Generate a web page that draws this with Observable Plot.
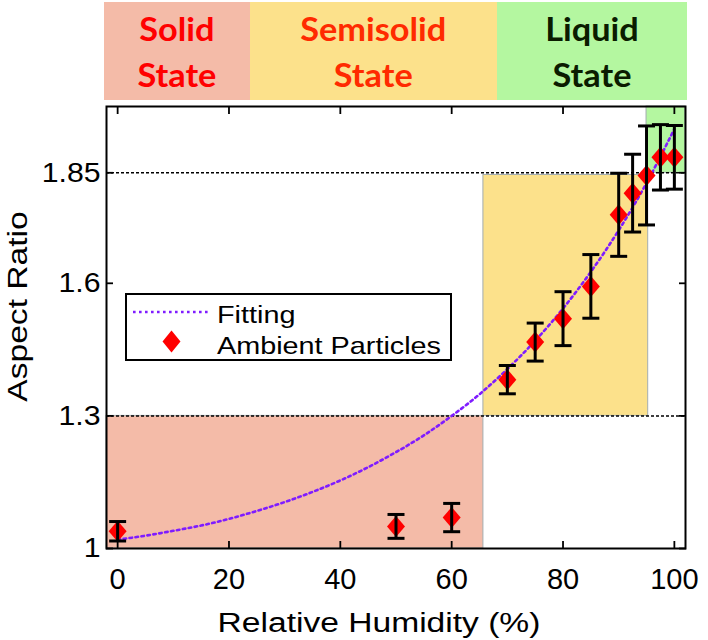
<!DOCTYPE html>
<html><head><meta charset="utf-8">
<script src="https://cdn.jsdelivr.net/npm/d3@7"></script>
<script src="https://cdn.jsdelivr.net/npm/@observablehq/plot@0.6"></script>
<style>
body{margin:0;background:#fff;}
#wrap{position:relative;width:708px;height:640px;overflow:hidden;font-family:"Liberation Sans",Arial,sans-serif;}
#banner{position:absolute;left:104px;top:2px;height:98px;display:flex;}
#banner div{height:98px;display:flex;align-items:center;justify-content:center;text-align:center;font-family:Lato,"Open Sans",sans-serif;font-weight:700;font-size:33px;line-height:46px;}
#banner span{display:inline-block;transform:scaleX(1.04);}
#chart{position:absolute;left:0;top:101px;}
#legend{position:absolute;left:125px;top:293px;}
</style></head>
<body><div id="wrap"><div id="banner"></div><div id="chart"></div><div id="legendBox"></div></div>
<script>
// ---- data ----
const rh  = [0, 50, 60, 70, 75, 80, 85, 90, 92.5, 95, 97.5, 100];
const ar  = [1.039, 1.050, 1.070, 1.382, 1.467, 1.520, 1.593, 1.755, 1.804, 1.844, 1.885, 1.885];
const err = [0.022, 0.027, 0.032, 0.032, 0.043, 0.061, 0.072, 0.094, 0.088, 0.112, 0.074, 0.072];

const fitRH = [0, 5, 10, 15, 20, 25, 30, 35, 40, 45, 50, 55, 60, 65, 70, 75, 80, 85, 90, 95, 100];
const fitAR = [1.020, 1.029, 1.040, 1.052, 1.067, 1.085, 1.105, 1.128, 1.154, 1.184, 1.218, 1.256, 1.300, 1.349, 1.406, 1.470, 1.543, 1.626, 1.720, 1.827, 1.949];

const regionNames = ["Solid", "Semisolid", "Liquid"];
const regionX1 = [-2, 65.7, 95];
const regionX2 = [65.7, 95.3, 102];
const regionY1 = [1, 1.3, 1.85];
const regionY2 = [1.3, 1.845, 2.0];
const thresholdAR = [1.3, 1.85];

const stateLines = [["Solid", "State"], ["Semisolid", "State"], ["Liquid", "State"]];
const xTicks = [0, 20, 40, 60, 80, 100];
const yTicks = [1, 1.3, 1.6, 1.85];
const xTitle = "Relative Humidity (%)";
const yTitle = "Aspect Ratio";
const legendLabels = ["Fitting", "Ambient Particles"];

// ---- styles ----
const regionFill = {Solid: "#f4bba8", Semisolid: "#fce18b", Liquid: "#b4f7a0"};
const bannerText = {Solid: "#ff0000", Semisolid: "#ff2a00", Liquid: "#0b1c00"};
const bannerWidths = [146, 247, 190];
const fitColor = "#7f1cff";

// ---- banner ----
const banner = document.getElementById("banner");
regionNames.forEach((n, i) => {
  const d = document.createElement("div");
  d.style.width = bannerWidths[i] + "px";
  d.style.background = regionFill[n];
  d.style.color = bannerText[n];
  d.innerHTML = `<span>${stateLines[i].join("<br>")}</span>`;
  banner.appendChild(d);
});

// ---- chart ----
const data = rh.map((x, i) => ({x, y: ar[i], e: err[i]}));
const fit = fitRH.map((x, i) => ({x, y: fitAR[i]}));
const regions = regionNames.map((n, i) => ({n, x1: regionX1[i], x2: regionX2[i], y1: regionY1[i], y2: regionY2[i]}));

const diamond = {draw(ctx) { ctx.moveTo(0, -10.5); ctx.lineTo(9, 0); ctx.lineTo(0, 10.5); ctx.lineTo(-9, 0); ctx.closePath(); }};
const cap = {draw(ctx) { ctx.moveTo(-8.5, 0); ctx.lineTo(8.5, 0); }};

const chart = Plot.plot({
  width: 708, height: 539,
  marginTop: 5, marginRight: 23, marginBottom: 92, marginLeft: 106,
  style: {fontFamily: "'Liberation Sans', Arial, sans-serif", background: "transparent", overflow: "visible", color: "black"},
  x: {domain: [-2, 102]},
  y: {domain: [1, 2]},
  color: {type: "identity"},
  marks: [
    Plot.rect(regions, {x1: "x1", x2: "x2", y1: "y1", y2: "y2", fill: d => regionFill[d.n], stroke: "#a3adb0", strokeWidth: 1}),
    Plot.ruleY(thresholdAR, {stroke: "black", strokeWidth: 1.5, strokeDasharray: "3,2"}),
    Plot.line(fit, {x: "x", y: "y", stroke: fitColor, strokeWidth: 2.6, strokeDasharray: "2.6,3.4", curve: "natural"}),
    Plot.dot(data, {x: "x", y: "y", symbol: diamond, fill: "#ff0000", stroke: "none"}),
    Plot.ruleX(data, {x: "x", y1: d => d.y - d.e, y2: d => d.y + d.e, stroke: "black", strokeWidth: 3}),
    Plot.dot(data, {x: "x", y: d => d.y + d.e, symbol: cap, fill: "none", stroke: "black", strokeWidth: 3}),
    Plot.dot(data, {x: "x", y: d => d.y - d.e, symbol: cap, fill: "none", stroke: "black", strokeWidth: 3}),
    Plot.frame({stroke: "black", strokeWidth: 2}),
    Plot.axisX({ticks: xTicks, tickSize: -7, tickPadding: 27, fontSize: 29, label: null, strokeWidth: 1.8, tickFormat: d => String(d)}),
    Plot.axisX({anchor: "top", ticks: xTicks, tickSize: -7, tickFormat: () => "", label: null, strokeWidth: 1.8}),
    Plot.axisY({ticks: yTicks, tickSize: -7, tickPadding: 13, fontSize: 28, label: null, strokeWidth: 1.8, tickFormat: d => String(d)}),
    Plot.axisY({anchor: "right", ticks: yTicks, tickSize: -7, tickFormat: () => "", label: null, strokeWidth: 1.8}),
    Plot.text([xTitle], {text: d => d, frameAnchor: "bottom", textAnchor: "middle", lineAnchor: "middle", dx: -17, dy: 75, fontSize: 28, fill: "black"}),
    Plot.text([yTitle], {text: d => d, frameAnchor: "left", textAnchor: "middle", lineAnchor: "middle", rotate: -90, dx: -88, dy: -21, fontSize: 28, fill: "black"})
  ]
});
// widen the title glyphs like the reference
chart.querySelectorAll("text").forEach(t => {
  const s = t.textContent;
  let k = null;
  if (s === xTitle || s === yTitle) k = 1.2;
  else if (yTicks.map(String).includes(s) && t.closest('g[aria-label="y-axis tick label"]')) k = 1.08;
  if (k) t.setAttribute("transform", (t.getAttribute("transform") || "") + ` scale(${k},1)`);
});
document.getElementById("chart").appendChild(chart);

// ---- legend ----
const NS = "http://www.w3.org/2000/svg";
const lg = document.createElementNS(NS, "svg");
lg.setAttribute("id", "legend");
lg.setAttribute("width", 327); lg.setAttribute("height", 68);
lg.innerHTML = `
  <rect x="1" y="1" width="325" height="66" fill="white" stroke="black" stroke-width="2"/>
  <line x1="8" x2="83" y1="19" y2="19" stroke="${fitColor}" stroke-width="2.6" stroke-dasharray="2.6,3.4"/>
  <path d="M46.5,37.5L55.5,48.5L46.5,59.5L37.5,48.5Z" fill="#ff0000"/>
  <text transform="translate(92,30) scale(1.2,1)" font-family="'Liberation Sans', Arial, sans-serif" font-size="24" fill="black">${legendLabels[0]}</text>
  <text transform="translate(92,61) scale(1.2,1)" font-family="'Liberation Sans', Arial, sans-serif" font-size="24" fill="black">${legendLabels[1]}</text>`;
document.getElementById("legendBox").appendChild(lg);
</script>
</body></html>
